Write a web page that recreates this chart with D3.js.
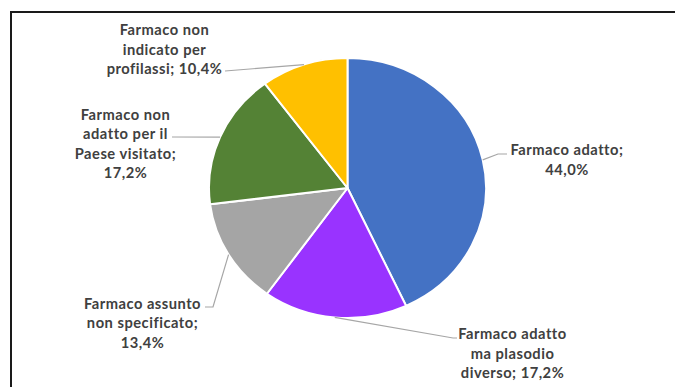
<!DOCTYPE html>
<html>
<head>
<meta charset="utf-8">
<script src="https://cdn.jsdelivr.net/npm/d3@7"></script>
<style>
  html, body { margin: 0; padding: 0; background: #ffffff; }
  svg { display: block; }
  .lbl { font-family: Lato, "Open Sans", sans-serif; font-weight: 700; font-size: 14.7px; letter-spacing: 0.5px; fill: #404040; }
</style>
</head>
<body>
<svg id="chart" width="675" height="387"></svg>
<script>
// Slices, clockwise from 12 o'clock
const categories = [
  "Farmaco adatto",
  "Farmaco adatto ma plasodio diverso",
  "Farmaco assunto non specificato",
  "Farmaco non adatto per il Paese visitato",
  "Farmaco non indicato per profilassi"
];
const values = [44.0, 17.2, 13.4, 17.2, 10.4];
const valueLabels = ["44,0%", "17,2%", "13,4%", "17,2%", "10,4%"];
// Wrapped label lines as printed next to each slice
const labelLines = [
  ["Farmaco adatto;", "44,0%"],
  ["Farmaco adatto", "ma plasodio", "diverso; 17,2%"],
  ["Farmaco assunto", "non specificato;", "13,4%"],
  ["Farmaco non", "adatto per il", "Paese visitato;", "17,2%"],
  ["Farmaco non", "indicato per", "profilassi; 10,4%"]
];
const colors = ["#4472C4", "#9933FF", "#A5A5A5", "#548235", "#FFC000"];

// Label placement: text centre x, first baseline y, and the leader's bend points
const labelLayout = [
  { x: 567, y: 155, leader: [[498, 154], [507, 154]] },
  { x: 512.5, y: 339, leader: [[453, 338], [457, 338]] },
  { x: 142.5, y: 308.5, leader: [[213, 307], [205, 307]] },
  { x: 125.5, y: 119.5, leader: [[172, 137]] },
  { x: 164.5, y: 35, leader: [[225, 71]] }
];
const lineHeight = 19.5;

const svg = d3.select("#chart");

// Chart area frame (only top and left edges fall inside the view)
svg.append("line").attr("x1", 11).attr("y1", 12).attr("x2", 675).attr("y2", 12)
  .attr("stroke", "#1a1a1a").attr("stroke-width", 2);
svg.append("line").attr("x1", 11).attr("y1", 11).attr("x2", 11).attr("y2", 387)
  .attr("stroke", "#1a1a1a").attr("stroke-width", 2);

const cx = 347.5, cy = 188, r = 130, sx = 138.5 / 130;

const pie = d3.pie().sort(null).value(d => d)(values);
const arc = d3.arc().innerRadius(0).outerRadius(r);

const g = svg.append("g").attr("transform", `translate(${cx},${cy}) scale(${sx},1)`);
g.selectAll("path").data(pie).join("path")
  .attr("d", arc)
  .attr("fill", (d, i) => colors[i])
  .attr("stroke", "#ffffff")
  .attr("stroke-width", 2)
  .attr("vector-effect", "non-scaling-stroke")
  .attr("stroke-linejoin", "round");

// Leader lines from the outer edge at each slice's mid angle
pie.forEach((d, i) => {
  const a = (d.startAngle + d.endAngle) / 2;
  const p0 = [cx + r * Math.sin(a) * sx, cy - r * Math.cos(a)];
  const pts = [p0].concat(labelLayout[i].leader);
  svg.append("path")
    .attr("d", d3.line()(pts))
    .attr("fill", "none")
    .attr("stroke", "#A6A6A6")
    .attr("stroke-width", 1.2);
});

// Data labels
labelLines.forEach((lines, i) => {
  const t = svg.append("text").attr("class", "lbl").attr("text-anchor", "middle");
  lines.forEach((s, j) => {
    t.append("tspan").attr("x", labelLayout[i].x).attr("y", labelLayout[i].y + j * lineHeight).text(s);
  });
});
</script>
</body>
</html>
